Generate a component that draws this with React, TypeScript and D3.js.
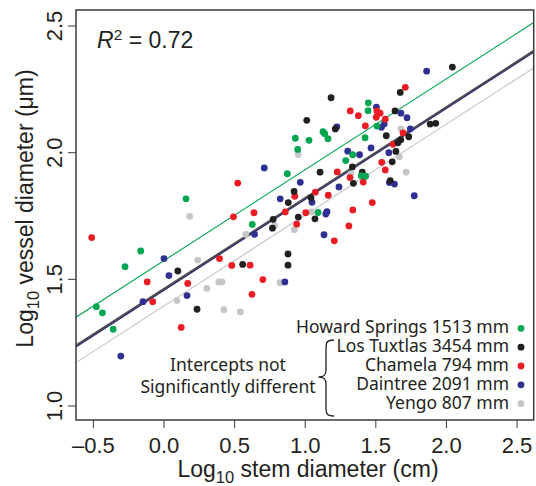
import React from "react";
import * as d3 from "d3";

const W = 536;
const H = 486;

const xTicks = [-0.5, 0, 0.5, 1.0, 1.5, 2.0, 2.5];
const yTicks = [1.0, 1.5, 2.0, 2.5];

const siteNames = [
  "Howard Springs 1513 mm",
  "Los Tuxtlas 3454 mm",
  "Chamela 794 mm",
  "Daintree 2091 mm",
  "Yengo 807 mm",
];
const siteColors = ["#00a651", "#231f20", "#ed1c24", "#2e3192", "#c4c6c8"];

const howardPts: [number, number][] = [
  [0.156, 1.818], [0.625, 1.717], [-0.165, 1.612], [-0.276, 1.55], [-0.479, 1.392],
  [-0.436, 1.368], [-0.36, 1.303], [1.447, 2.197], [1.445, 2.166], [1.508, 2.105],
  [1.126, 2.083], [1.138, 2.075], [0.93, 2.057], [1.027, 2.049], [1.161, 2.055],
  [1.424, 2.059], [0.947, 2.013], [1.336, 1.992], [1.287, 1.969], [0.873, 1.917],
  [1.397, 1.909], [1.428, 1.907], [1.091, 1.764],
];
const tuxtlasPts: [number, number][] = [
  [2.042, 2.338], [1.673, 2.238], [1.183, 2.217], [1.636, 2.165], [1.011, 2.128],
  [1.213, 2.094], [1.885, 2.113], [1.924, 2.116], [1.574, 2.067], [1.733, 2.063],
  [1.677, 2.051], [1.657, 2.039], [1.642, 2.005], [1.616, 1.964], [1.334, 1.944],
  [1.105, 1.923], [1.404, 1.923], [1.341, 1.879], [1.602, 1.89], [0.921, 1.847],
  [1.041, 1.822], [0.88, 1.803], [0.951, 1.746], [1.069, 1.739], [0.773, 1.737],
  [0.768, 1.702], [0.878, 1.6], [0.878, 1.556], [0.098, 1.533], [0.557, 1.559],
  [0.234, 1.382],
];
const chamelaPts: [number, number][] = [
  [1.709, 2.258], [1.319, 2.165], [1.507, 2.165], [1.53, 2.156], [1.376, 2.146],
  [1.503, 2.14], [1.567, 2.132], [1.426, 2.106], [1.693, 2.078], [1.622, 2.033],
  [1.542, 1.962], [1.227, 1.924], [1.317, 1.902], [1.411, 1.884], [1.567, 1.932],
  [0.522, 1.88], [1.072, 1.844], [0.926, 1.828], [1.163, 1.832], [1.475, 1.803],
  [0.492, 1.747], [0.637, 1.763], [0.859, 1.766], [1.004, 1.763], [1.337, 1.774],
  [0.94, 1.718], [1.309, 1.711], [1.206, 1.652], [-0.512, 1.665], [0.393, 1.582],
  [0.48, 1.555], [0.61, 1.556], [-0.119, 1.49], [0.168, 1.484], [0.7, 1.499],
  [-0.08, 1.412], [0.623, 1.441], [0.122, 1.31],
];
const daintreePts: [number, number][] = [
  [1.86, 2.322], [1.504, 2.18], [1.678, 2.156], [1.721, 2.138], [1.224, 2.102],
  [1.54, 2.1], [1.559, 2.113], [1.744, 2.094], [1.466, 2.019], [1.301, 2.006],
  [1.385, 1.992], [1.592, 2.0], [0.71, 1.94], [0.965, 1.883], [1.239, 1.865],
  [1.596, 1.882], [1.632, 1.876], [1.772, 1.83], [0.823, 1.818], [1.048, 1.804],
  [1.154, 1.767], [1.146, 1.758], [0.641, 1.678], [1.133, 1.676], [0.0, 1.582],
  [0.035, 1.515], [0.856, 1.49], [-0.149, 1.412], [0.163, 1.436], [-0.306, 1.197],
];
const yengoPts: [number, number][] = [
  [1.678, 2.094], [1.666, 1.984], [0.95, 1.993], [1.715, 1.923], [1.322, 1.916],
  [1.043, 1.766], [0.182, 1.749], [0.783, 1.713], [0.923, 1.696], [0.579, 1.677],
  [0.239, 1.576], [0.388, 1.49], [0.411, 1.49], [0.303, 1.464], [0.092, 1.416],
  [0.822, 1.487], [0.423, 1.38], [0.54, 1.371],
];

// regression lines: intercepts and common slope
const lineIntercepts = [1.574, 1.461, 1.456, 1.395];
const lineSlope = 0.359;
const lineColors = ["#00a651", "#4d4b4c", "#2e3192", "#c8c8ca"];
const lineWidths = [1.1, 2.6, 1.0, 1.2];

const seriesPts = [howardPts, tuxtlasPts, chamelaPts, daintreePts, yengoPts];

export default function App() {
  const left = 76, right = 533.7, top = 10, bottom = 420;
  const x = d3.scaleLinear().domain([-0.6232, 2.618]).range([left, right]);
  const y = d3.scaleLinear().domain([0.9447, 2.5634]).range([bottom, top]);
  const axisFont = "'Liberation Sans', Arial, Helvetica, sans-serif";
  const legFont = "'Noto Sans', 'Open Sans', sans-serif";
  const textColor = "#231f20";
  const fmt = (v: number) => (v < 0 ? "\u2013" + Math.abs(v).toFixed(1) : v.toFixed(1));
  const line = d3.line<[number, number]>().x((d) => x(d[0])).y((d) => y(d[1]));
  const [d0, d1] = x.domain();

  const drawOrder = [4, 3, 2, 1, 0];

  return (
    <svg width={W} height={H} style={{ position: "absolute", left: 0, top: 0, background: "#fff" }}>
      <defs>
        <clipPath id="plotclip">
          <rect x={left} y={top} width={right - left} height={bottom - top} />
        </clipPath>
      </defs>
      <rect x={0} y={0} width={W} height={H} fill="#fff" />
      <g clipPath="url(#plotclip)">
        {lineIntercepts.map((b, i) => (
          <path
            key={i}
            d={line([
              [d0, b + lineSlope * d0],
              [d1, b + lineSlope * d1],
            ]) as string}
            fill="none"
            stroke={lineColors[i]}
            strokeWidth={lineWidths[i]}
          />
        ))}
        {drawOrder.map((si) =>
          seriesPts[si].map((p, j) => (
            <circle key={si + "-" + j} cx={x(p[0])} cy={y(p[1])} r={3.4} fill={siteColors[si]} />
          ))
        )}
      </g>
      <rect x={left} y={top} width={right - left} height={bottom - top} fill="none" stroke="#3a3a3a" strokeWidth={1.5} />
      {xTicks.map((t) => (
        <g key={"x" + t}>
          <line x1={x(t)} x2={x(t)} y1={bottom} y2={bottom + 8} stroke="#3a3a3a" strokeWidth={1} />
          <text x={x(t)} y={453} textAnchor="middle" fontFamily={axisFont} fontSize={22} fill={textColor}>
            {fmt(t)}
          </text>
        </g>
      ))}
      {yTicks.map((t) => (
        <g key={"y" + t}>
          <line x1={left - 8} x2={left} y1={y(t)} y2={y(t)} stroke="#3a3a3a" strokeWidth={1} />
          <text
            transform={`translate(61.5,${y(t)}) rotate(-90)`}
            textAnchor="middle"
            fontFamily={axisFont}
            fontSize={22}
            fill={textColor}
          >
            {fmt(t)}
          </text>
        </g>
      ))}
      <text x={308} y={477} textAnchor="middle" fontFamily={axisFont} fontSize={23} fill={textColor}>
        Log<tspan fontSize={16.5} dy={6}>10</tspan>
        <tspan dy={-6}> stem diameter (cm)</tspan>
      </text>
      <text
        transform={`translate(33,${208.5}) rotate(-90)`}
        textAnchor="middle"
        fontFamily={axisFont}
        fontSize={23}
        fill={textColor}
      >
        Log<tspan fontSize={16.5} dy={6}>10</tspan>
        <tspan dy={-6}> vessel diameter (μm)</tspan>
      </text>
      <text x={97} y={48} fontFamily={axisFont} fontSize={23} fill={textColor}>
        <tspan fontStyle="italic">R</tspan>
        <tspan fontSize={15.5} dy={-8}>2</tspan>
        <tspan dy={8}> = 0.72</tspan>
      </text>
      {siteNames.map((n, i) => (
        <g key={n}>
          <text x={509} y={332.7 + i * 19} textAnchor="end" fontFamily={legFont} fontSize={17.5} fill={textColor}>
            {n}
          </text>
          <circle cx={521} cy={328.3 + i * 18.85} r={3.4} fill={siteColors[i]} />
        </g>
      ))}
      <text x={228} y={370.7} textAnchor="middle" fontFamily={legFont} fontSize={17.5} fill={textColor}>
        Intercepts not
      </text>
      <text x={228} y={393} textAnchor="middle" fontFamily={legFont} fontSize={17.5} fill={textColor}>
        Significantly different
      </text>
      <path
        d="M 334 340 C 326 340, 326 343, 326 350 L 326 370 C 326 375, 324 377, 318.5 377 C 324 377, 326 379, 326 384 L 326 406 C 326 413, 326 416, 334 416"
        fill="none"
        stroke="#231f20"
        strokeWidth={1.3}
      />
    </svg>
  );
}
